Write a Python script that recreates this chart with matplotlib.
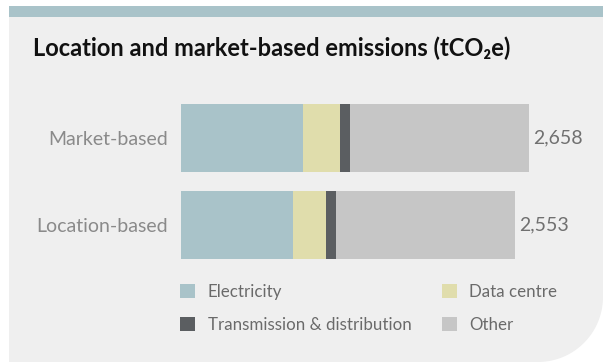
import numpy as np
import matplotlib.pyplot as plt
from matplotlib.patches import Polygon, Rectangle

# data (tCO2e)
categories = ['Location-based', 'Market-based']
electricity = [855, 932]
data_centre = [252, 283]
transmission = [76, 76]
other = [1370, 1367]
total_labels = ['2,553', '2,658']

colors = {'Electricity': '#a9c3c9', 'Data centre': '#e0ddac',
          'Transmission & distribution': '#5b5e61', 'Other': '#c6c6c6'}

W, H = 603, 362
fig = plt.figure(figsize=(W / 100, H / 100), dpi=100)
fig.patch.set_facecolor('white')
plt.rcParams['font.family'] = ['Lato', 'DejaVu Sans']


def fx(x):
    return x / W


def fy(y):
    return 1 - y / H


# panel with rounded bottom right corner
r = 65
t = np.linspace(0, np.pi / 2, 40)
arc = [(W - r + r * np.cos(a), H - r + r * np.sin(a)) for a in t]
pts = [(9, 6), (W, 6)] + arc + [(9, H)]
fig.patches.append(Polygon([(fx(x), fy(y)) for x, y in pts], closed=True,
                           transform=fig.transFigure, facecolor='#efefef',
                           edgecolor='none', zorder=-2))
fig.patches.append(Rectangle((fx(9), fy(17)), 1 - fx(9), 11 / H,
                             transform=fig.transFigure, facecolor='#a9c3c9',
                             edgecolor='none', zorder=-1))

fig.text(fx(33), fy(48), 'Location and market-based emissions (tCO\u2082e)',
         fontsize=17, fontweight='bold', color='#111111', va='center',
         family=['Lato', 'DejaVu Sans'])

ax = fig.add_axes([fx(181), fy(259), 348 / W, 155 / H])
ax.set_facecolor('none')
for s in ax.spines.values():
    s.set_visible(False)

y = np.arange(len(categories))
series = [('Electricity', electricity), ('Data centre', data_centre),
          ('Transmission & distribution', transmission), ('Other', other)]
left = np.zeros(len(categories))
bars = {}
for name, vals in series:
    bars[name] = ax.barh(y, vals, left=left, height=0.78, color=colors[name],
                         label=name)
    left = left + np.array(vals)

for i, lbl in enumerate(total_labels):
    ax.annotate(lbl, (left[i], y[i]), xytext=(3, 0), textcoords='offset points',
                ha='left', va='center', fontsize=14, color='#707070')

ax.set_xlim(0, left.max())
ax.set_ylim(-0.39, 1.39)
ax.set_xticks([])
ax.set_yticks(y, categories)
ax.tick_params(axis='y', length=0, pad=9.4, labelsize=14, labelcolor='#8a8a8a')

order = ['Electricity', 'Transmission & distribution', 'Data centre', 'Other']
leg = fig.legend([bars[n] for n in order], order, loc='upper left',
                 bbox_to_anchor=(fx(180), fy(284)), ncol=2, frameon=False,
                 fontsize=12.2, handlelength=0.88, handleheight=0.88,
                 handletextpad=0.75, labelspacing=1.0, columnspacing=1.8,
                 borderpad=0, borderaxespad=0)
for txt in leg.get_texts():
    txt.set_color('#6a6a6a')

fig.savefig('out.png', dpi=100, facecolor='white')
